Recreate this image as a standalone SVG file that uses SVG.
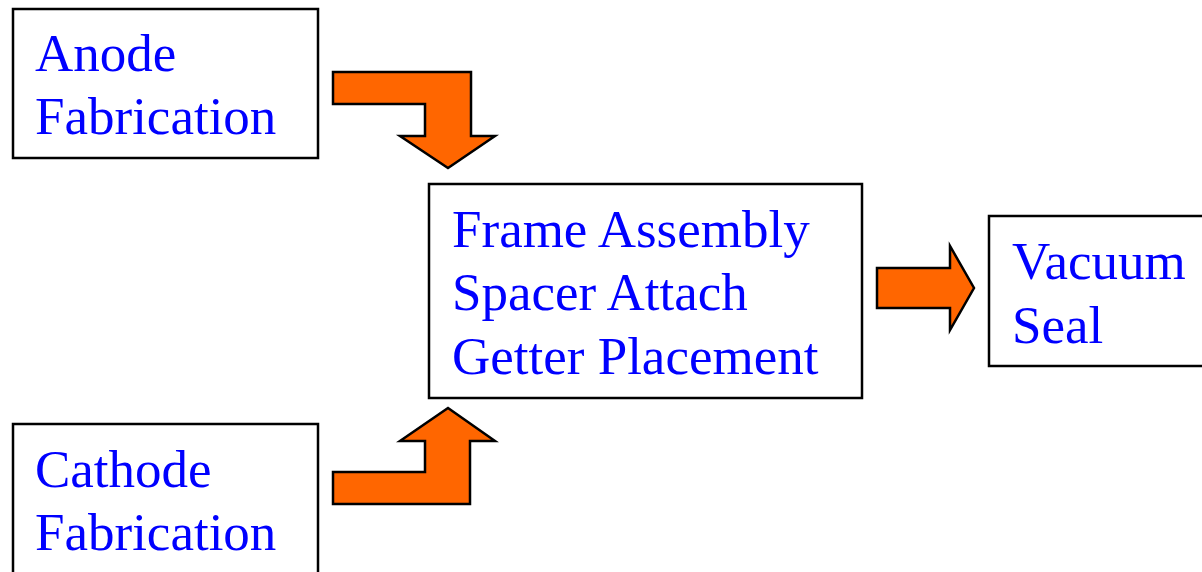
<svg xmlns="http://www.w3.org/2000/svg" width="1202" height="572" viewBox="0 0 1202 572">
  <style>
    .box { fill: #ffffff; stroke: #000000; stroke-width: 2.5; }
    .label { font-family: "Liberation Serif", "Times New Roman", serif; font-size: 53px; fill: #0000ff; }
    .arrow { fill: #ff6600; stroke: #000000; stroke-width: 2.5; stroke-linejoin: miter; }
  </style>
  <rect width="1202" height="572" fill="#ffffff"/>

  <g id="anode">
    <rect class="box" x="13" y="9" width="305" height="149"/>
    <text class="label" x="35" y="71">Anode</text>
    <text class="label" x="35" y="134">Fabrication</text>
  </g>

  <g id="cathode">
    <rect class="box" x="13" y="424" width="305" height="160"/>
    <text class="label" x="35" y="487">Cathode</text>
    <text class="label" x="35" y="550">Fabrication</text>
  </g>

  <g id="assembly">
    <rect class="box" x="429" y="184" width="433" height="214"/>
    <text class="label" x="452" y="247">Frame Assembly</text>
    <text class="label" x="452" y="310">Spacer Attach</text>
    <text class="label" x="452" y="374">Getter Placement</text>
  </g>

  <g id="vacuum-seal">
    <rect class="box" x="989" y="216" width="240" height="150"/>
    <text class="label" x="1012" y="279">Vacuum</text>
    <text class="label" x="1012" y="343">Seal</text>
  </g>

  <g id="connectors">
    <polygon class="arrow" points="333,72 471,72 471,136 495,136 448,168 400,136 425,136 425,104 333,104"/>
    <polygon class="arrow" points="448,408 495,441 470,441 470,504 333,504 333,472 425,472 425,441 400,441"/>
    <polygon class="arrow" points="877,268 950,268 950,246 974,288 950,330 950,308 877,308"/>
  </g>
</svg>
